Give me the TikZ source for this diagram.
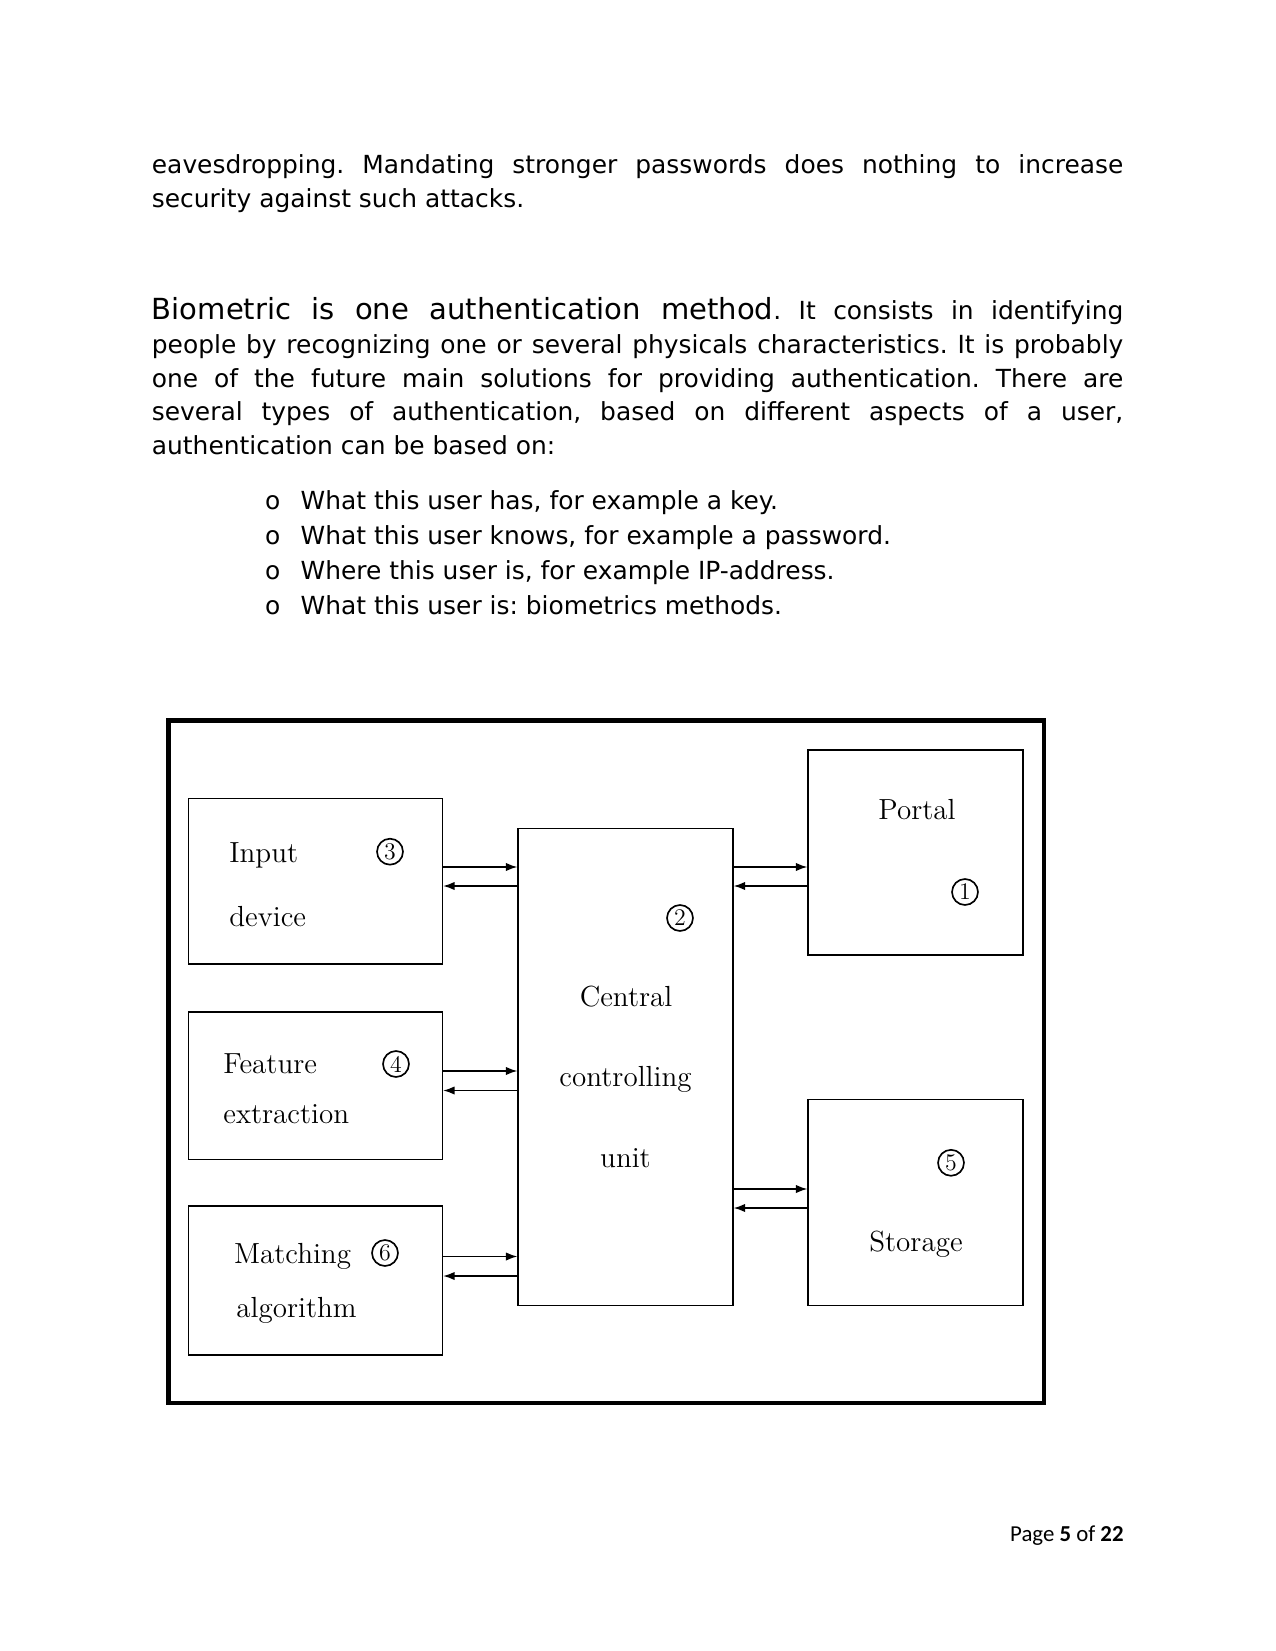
\documentclass[tikz,border=0pt]{standalone}
\usepackage{fontspec}
\newfontfamily\dejavu{DejaVu Sans}
\newfontfamily\carlito{Carlito}
\usetikzlibrary{arrows.meta}
\frenchspacing

\tikzset{
  blk/.style={draw,line width=0.6pt,inner sep=0pt},
  lbl/.style={anchor=base west,inner sep=0pt,font=\fontsize{14}{17}\selectfont},
  clbl/.style={anchor=base,inner sep=0pt,font=\fontsize{14}{17}\selectfont},
  num/.style={draw,circle,line width=0.8pt,inner sep=0pt,minimum size=12.5pt,font=\fontsize{11.5}{13}\selectfont},
  body/.style={anchor=base west,inner sep=0pt,font=\dejavu\fontsize{12}{14}\selectfont},
  flow/.style={line width=0.7pt,-{Latex[length=5.5pt,width=4pt]}},
}
\newcommand\fillline[1]{\makebox[468pt][s]{#1}}

\begin{document}
\frenchspacing
\begin{tikzpicture}[x=0.4818pt,y=-0.4818pt]
\useasboundingbox (0,0) rectangle (1275,1651);

% page text
\node[body] (p1a) at (151.5,174) {\fillline{eavesdropping. Mandating stronger passwords does nothing to increase}};
\node[body] (p1b) at (151.5,207.3) {security against such attacks.};
\node[body] (p2a) at (151.5,320) {\fillline{{\fontsize{14}{17}\selectfont Biometric is one authentication method}. It consists in identifying}};
\node[body] (p2b) at (151.5,353.5) {\fillline{people by recognizing one or several physicals characteristics. It is probably}};
\node[body] (p2c) at (151.5,387.5) {\fillline{one of the future main solutions for providing authentication. There are}};
\node[body] (p2d) at (151.5,420.8) {\fillline{several types of authentication, based on different aspects of a user,}};
\node[body] (p2e) at (151.5,454.2) {authentication can be based on:};

\node[body] (o1) at (264.6,509.2) {o};
\node[body] (b1) at (300.3,509.2) {What this user has, for example a key.};
\node[body] (o2) at (264.6,544.2) {o};
\node[body] (b2) at (300.3,544.2) {What this user knows, for example a password.};
\node[body] (o3) at (264.6,579.2) {o};
\node[body] (b3) at (300.3,579.2) {Where this user is, for example IP-address.};
\node[body] (o4) at (264.6,614.2) {o};
\node[body] (b4) at (300.3,614.2) {What this user is: biometrics methods.};

% figure
\draw[line width=2pt] (168.5,720.5) rectangle (1044,1403);

\node[blk,minimum width=122.4pt,minimum height=79.7pt] (inp) at (315.5,881.25) {};
\node[blk,minimum width=122.4pt,minimum height=71.1pt] (fex) at (315.5,1085.75) {};
\node[blk,minimum width=122.4pt,minimum height=71.8pt] (mat) at (315.5,1280.5) {};
\node[blk,minimum width=103.6pt,minimum height=229.8pt] (ccu) at (625.5,1067) {};
\node[blk,minimum width=103.6pt,minimum height=98.8pt] (por) at (915.5,852.5) {};
\node[blk,minimum width=103.6pt,minimum height=99.3pt] (sto) at (915.5,1202.5) {};

\node[lbl] (inpa) at (229,862.7) {Input};
\node[lbl] (inpb) at (229,926) {device};
\node[num] (n3) at (390,851.7) {3};
\node[clbl] (pora) at (917,819) {Portal};
\node[num] (n1) at (965,892) {1};
\node[num] (n2) at (680,918) {2};
\node[clbl] (ccua) at (626,1006.7) {Central};
\node[clbl] (ccub) at (625.5,1086.6) {controlling};
\node[clbl] (ccuc) at (625.5,1167.8) {unit};
\node[lbl] (fexa) at (223,1073) {Feature};
\node[lbl] (fexb) at (223,1123.5) {extraction};
\node[num] (n4) at (396,1064) {4};
\node[num] (n5) at (951,1162.8) {5};
\node[clbl] (stoa) at (916,1251.7) {Storage};
\node[lbl] (mata) at (233.6,1263.4) {Matching};
\node[lbl] (matb) at (236,1317) {algorithm};
\node[num] (n6) at (385,1253) {6};

% arrow rows
\coordinate (r1) at (0,867);
\coordinate (r2) at (0,886);
\coordinate (r3) at (0,1071);
\coordinate (r4) at (0,1090.5);
\coordinate (r5) at (0,1256.5);
\coordinate (r6) at (0,1276);
\coordinate (r7) at (0,1189);
\coordinate (r8) at (0,1208);

\draw[flow] (inp.east |- r1) -- (ccu.west |- r1);
\draw[flow] (ccu.west |- r2) -- (inp.east |- r2);
\draw[flow] (fex.east |- r3) -- (ccu.west |- r3);
\draw[flow] (ccu.west |- r4) -- (fex.east |- r4);
\draw[flow] (mat.east |- r5) -- (ccu.west |- r5);
\draw[flow] (ccu.west |- r6) -- (mat.east |- r6);
\draw[flow] (ccu.east |- r1) -- (por.west |- r1);
\draw[flow] (por.west |- r2) -- (ccu.east |- r2);
\draw[flow] (ccu.east |- r7) -- (sto.west |- r7);
\draw[flow] (sto.west |- r8) -- (ccu.east |- r8);

% footer
\node[anchor=base east,inner sep=0pt,font=\carlito\fontsize{11}{13}\selectfont] (pg) at (1124,1541.7) {Page \textbf{5} of \textbf{22}};
\end{tikzpicture}
\end{document}
